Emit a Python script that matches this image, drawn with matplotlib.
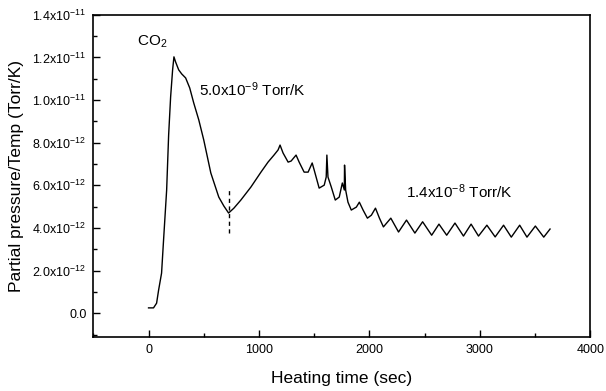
import matplotlib
matplotlib.use("Agg")
import matplotlib.pyplot as plt
from matplotlib.ticker import MultipleLocator, FixedLocator, FixedFormatter

plt.rcParams['font.family'] = ['Liberation Sans', 'DejaVu Sans']
plt.rcParams['mathtext.fontset'] = 'custom'
plt.rcParams['mathtext.rm'] = 'Liberation Sans'
plt.rcParams['mathtext.it'] = 'Liberation Sans'
plt.rcParams['mathtext.default'] = 'regular'

# CO2 desorption trace: heating time (sec) vs partial pressure/temperature (1e-12 Torr/K)
time_s = [0, 45, 73, 91, 118, 136, 164, 182, 200, 218, 230, 245, 273, 300, 336,
          373, 409, 455, 500, 564, 636, 682, 725, 773, 836, 927, 1018, 1082, 1136,
          1173, 1191, 1218, 1264, 1291, 1336, 1364, 1409, 1445, 1482, 1500, 1545,
          1591, 1609, 1615, 1625, 1655, 1691, 1727, 1755, 1773, 1775, 1785, 1806,
          1836, 1882, 1909, 1943, 1982, 2018, 2055, 2091, 2127, 2194, 2264, 2336,
          2412, 2482, 2564, 2630, 2700, 2775, 2852, 2921, 2988, 3064, 3139, 3215,
          3285, 3361, 3427, 3503, 3579, 3636]
signal_e12 = [0.25, 0.25, 0.47, 1.08, 1.88, 3.43, 5.78, 8.36, 10.15, 11.42, 12.03,
              11.79, 11.42, 11.23, 11.04, 10.57, 9.87, 9.07, 8.13, 6.58, 5.45, 5.03,
              4.70, 4.93, 5.31, 5.92, 6.62, 7.09, 7.42, 7.66, 7.89, 7.52, 7.09, 7.14,
              7.42, 7.09, 6.62, 6.62, 7.05, 6.72, 5.87, 6.01, 6.39, 7.42, 6.39, 5.92,
              5.31, 5.45, 6.11, 5.78, 6.95, 5.78, 5.21, 4.84, 4.98, 5.21, 4.84, 4.46,
              4.60, 4.93, 4.46, 4.05, 4.46, 3.81, 4.37, 3.76, 4.29, 3.66, 4.18, 3.66,
              4.23, 3.62, 4.18, 3.62, 4.13, 3.58, 4.13, 3.57, 4.13, 3.57, 4.09, 3.57,
              3.95]

# heating-rate change marker
switch_time = 725
switch_span_e12 = [3.76, 5.87]

xtick_values = [0, 1000, 2000, 3000, 4000]
xtick_labels = ['0', '1000', '2000', '3000', '4000']
ytick_values_e12 = [0, 2, 4, 6, 8, 10, 12, 14]
ytick_labels = ['0.0', '2.0x10$^{-12}$', '4.0x10$^{-12}$', '6.0x10$^{-12}$',
                '8.0x10$^{-12}$', '1.0x10$^{-11}$', '1.2x10$^{-11}$', '1.4x10$^{-11}$']

signal = [v * 1e-12 for v in signal_e12]
switch_span = [v * 1e-12 for v in switch_span_e12]
ytick_values = [v * 1e-12 for v in ytick_values_e12]

fig = plt.figure(figsize=(6.06, 3.91), dpi=100)
ax = fig.add_axes([0.154, 0.139, 0.820, 0.823])

ax.plot(time_s, signal, color='black', lw=1.0)
ax.plot([switch_time, switch_time], switch_span, color='black', lw=1.0,
        linestyle=(0, (3, 2.5)))

ax.set_xlim(-500, 4000)
ax.set_ylim(-1.1e-12, 1.4e-11)

ax.xaxis.set_major_locator(FixedLocator(xtick_values))
ax.xaxis.set_major_formatter(FixedFormatter(xtick_labels))
ax.xaxis.set_minor_locator(MultipleLocator(500))
ax.yaxis.set_major_locator(FixedLocator(ytick_values))
ax.yaxis.set_major_formatter(FixedFormatter(ytick_labels))
ax.yaxis.set_minor_locator(MultipleLocator(1e-12))

ax.tick_params(which='both', direction='in', top=False, right=False,
               labelsize=9, width=1.0, pad=5)
ax.tick_params(which='major', length=5)
ax.tick_params(which='minor', length=3)
for s in ax.spines.values():
    s.set_linewidth(1.2)

ax.set_xlabel('Heating time (sec)', fontsize=12.5, labelpad=11)
ax.set_ylabel('Partial pressure/Temp (Torr/K)', fontsize=12.5, labelpad=6)

ax.text(-100, 12.75e-12, 'CO$_2$', fontsize=11, ha='left', va='center')
ax.text(455, 10.5e-12, '5.0x10$^{-9}$ Torr/K', fontsize=11, ha='left', va='center')
ax.text(2336, 5.7e-12, '1.4x10$^{-8}$ Torr/K', fontsize=11, ha='left', va='center')

fig.savefig('out.png', dpi=100)
